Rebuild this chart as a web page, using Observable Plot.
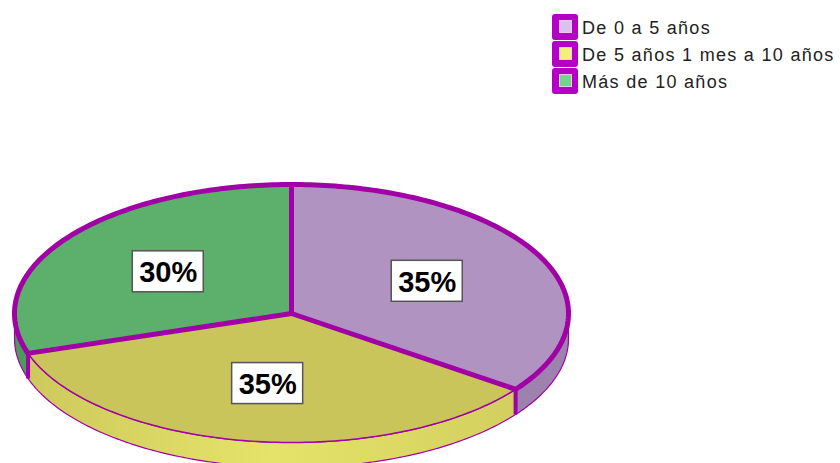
<!DOCTYPE html>
<html><head><meta charset="utf-8">
<script src="https://cdn.jsdelivr.net/npm/d3@7"></script>
<script src="https://cdn.jsdelivr.net/npm/@observablehq/plot@0.6"></script>
<style>
body{margin:0;background:#fff;}
#wrap{position:relative;width:840px;height:463px;overflow:hidden;font-family:"Liberation Sans",Arial,sans-serif;}
#chart{position:absolute;left:0;top:0;}
#legend{position:absolute;left:552px;top:13px;}
.item{display:flex;align-items:center;height:27px;}
.sw{width:26px;height:26px;box-sizing:border-box;background:#b400c4;border-radius:3px;display:flex;align-items:center;justify-content:center;margin-right:4px;}
.sw i{display:block;width:11px;height:11px;border:1px solid #f2c6f2;}
.lab{font-size:18px;letter-spacing:1.3px;color:#222;line-height:27px;padding-top:3px;}
</style></head><body>
<div id="wrap"><div id="chart"></div><div id="legend"></div></div>
<script>
const categories = ["De 0 a 5 años", "De 5 años 1 mes a 10 años", "Más de 10 años"];
const values = [35, 35, 30];
const labels = ["35%", "35%", "30%"];
const topColors = ["#b093c1", "#c9c55b", "#5cb06b"];
const sideColors = ["#9d82ad", "url(#ySide)", "#4e9a5b"];
const legendColors = ["#dcc0ee", "#f4ef78", "#6fd68c"];

const stroke = "#a100a6";
const depth = 0.195;      // thickness of the 3D side, in y units
const labelR = 0.55;
const total = d3.sum(values);

const pt = (deg, r = 1, dy = 0) => ({
  x: r * Math.sin(deg * Math.PI / 180),
  y: -r * Math.cos(deg * Math.PI / 180) + dy
});
function arc(a0, a1, dy = 0) {
  const pts = [];
  const n = Math.max(2, Math.ceil(Math.abs(a1 - a0)));
  for (let k = 0; k <= n; k++) pts.push(pt(a0 + (a1 - a0) * k / n, 1, dy));
  return pts;
}

let acc = 0;
const slices = values.map((v, i) => {
  const a0 = acc / total * 360;
  acc += v;
  const a1 = acc / total * 360;
  return {i, a0, a1, mid: (a0 + a1) / 2};
});

const marks = [];
// sides (front half only)
slices.forEach(s => {
  const s0 = Math.max(s.a0, 90), s1 = Math.min(s.a1, 270);
  if (s0 < s1) {
    const poly = arc(s0, s1).concat(arc(s1, s0, depth));
    marks.push(Plot.line(poly, {x: "x", y: "y", fill: sideColors[s.i], stroke, strokeWidth: 1.2, curve: "linear-closed"}));
  }
});
// top faces
slices.forEach(s => {
  const poly = [pt(0, 0)].concat(arc(s.a0, s.a1));
  marks.push(Plot.line(poly, {x: "x", y: "y", fill: topColors[s.i], stroke: "none", curve: "linear-closed"}));
});
// outer arcs
slices.forEach(s => {
  marks.push(Plot.line(arc(s.a0, s.a1), {x: "x", y: "y", stroke, strokeWidth: s.i === 1 ? 1.5 : 5, strokeLinejoin: "round"}));
});
// radial edges
const bounds = slices.map(s => ({c: pt(0, 0), e: pt(s.a0)}));
marks.push(Plot.link(bounds, {x1: d => d.c.x, y1: d => d.c.y, x2: d => d.e.x, y2: d => d.e.y, stroke, strokeWidth: 5, strokeLinecap: "round"}));
// vertical edges on the side
const vEdges = slices.map(s => s.a0).filter(a => a > 90 && a < 270).map(a => ({t: pt(a), b: pt(a, 1, depth)}));
marks.push(Plot.link(vEdges, {x1: d => d.t.x, y1: d => d.t.y, x2: d => d.b.x, y2: d => d.b.y, stroke, strokeWidth: 4}));
// labels
const labelData = slices.map(s => ({...pt(s.mid, labelR), text: labels[s.i]}));
marks.push(Plot.rect(labelData, {x1: "x", x2: "x", y1: "y", y2: "y", insetLeft: -35.5, insetRight: -35.5, insetTop: -20.5, insetBottom: -20.5, fill: "white", stroke: "#555", strokeWidth: 1.5}));
marks.push(Plot.text(labelData, {x: "x", y: "y", text: "text", fontSize: 29, fontWeight: "bold", fill: "black", dy: 1, fontFamily: "Liberation Sans, Arial, sans-serif"}));

const chart = Plot.plot({
  width: 840, height: 463,
  marginTop: 0, marginBottom: 0, marginLeft: 0, marginRight: 0,
  x: {domain: [-1, 1], range: [14, 568], axis: null},
  y: {domain: [-1, 1], range: [184, 442], axis: null},
  style: {background: "transparent"},
  marks
});
const svg = d3.select(chart);
const defs = svg.insert("defs", ":first-child");
const g = defs.append("linearGradient").attr("id", "ySide").attr("x1", "0").attr("x2", "1").attr("y1", "0").attr("y2", "0");
g.append("stop").attr("offset", "0").attr("stop-color", "#cdc95c");
g.append("stop").attr("offset", "0.5").attr("stop-color", "#e6e36a");
g.append("stop").attr("offset", "1").attr("stop-color", "#d3cf5f");
document.getElementById("chart").appendChild(chart);

const legend = d3.select("#legend");
categories.forEach((c, i) => {
  const it = legend.append("div").attr("class", "item");
  it.append("div").attr("class", "sw").append("i").style("background", legendColors[i]);
  it.append("span").attr("class", "lab").text(c);
});
</script>
</body></html>
